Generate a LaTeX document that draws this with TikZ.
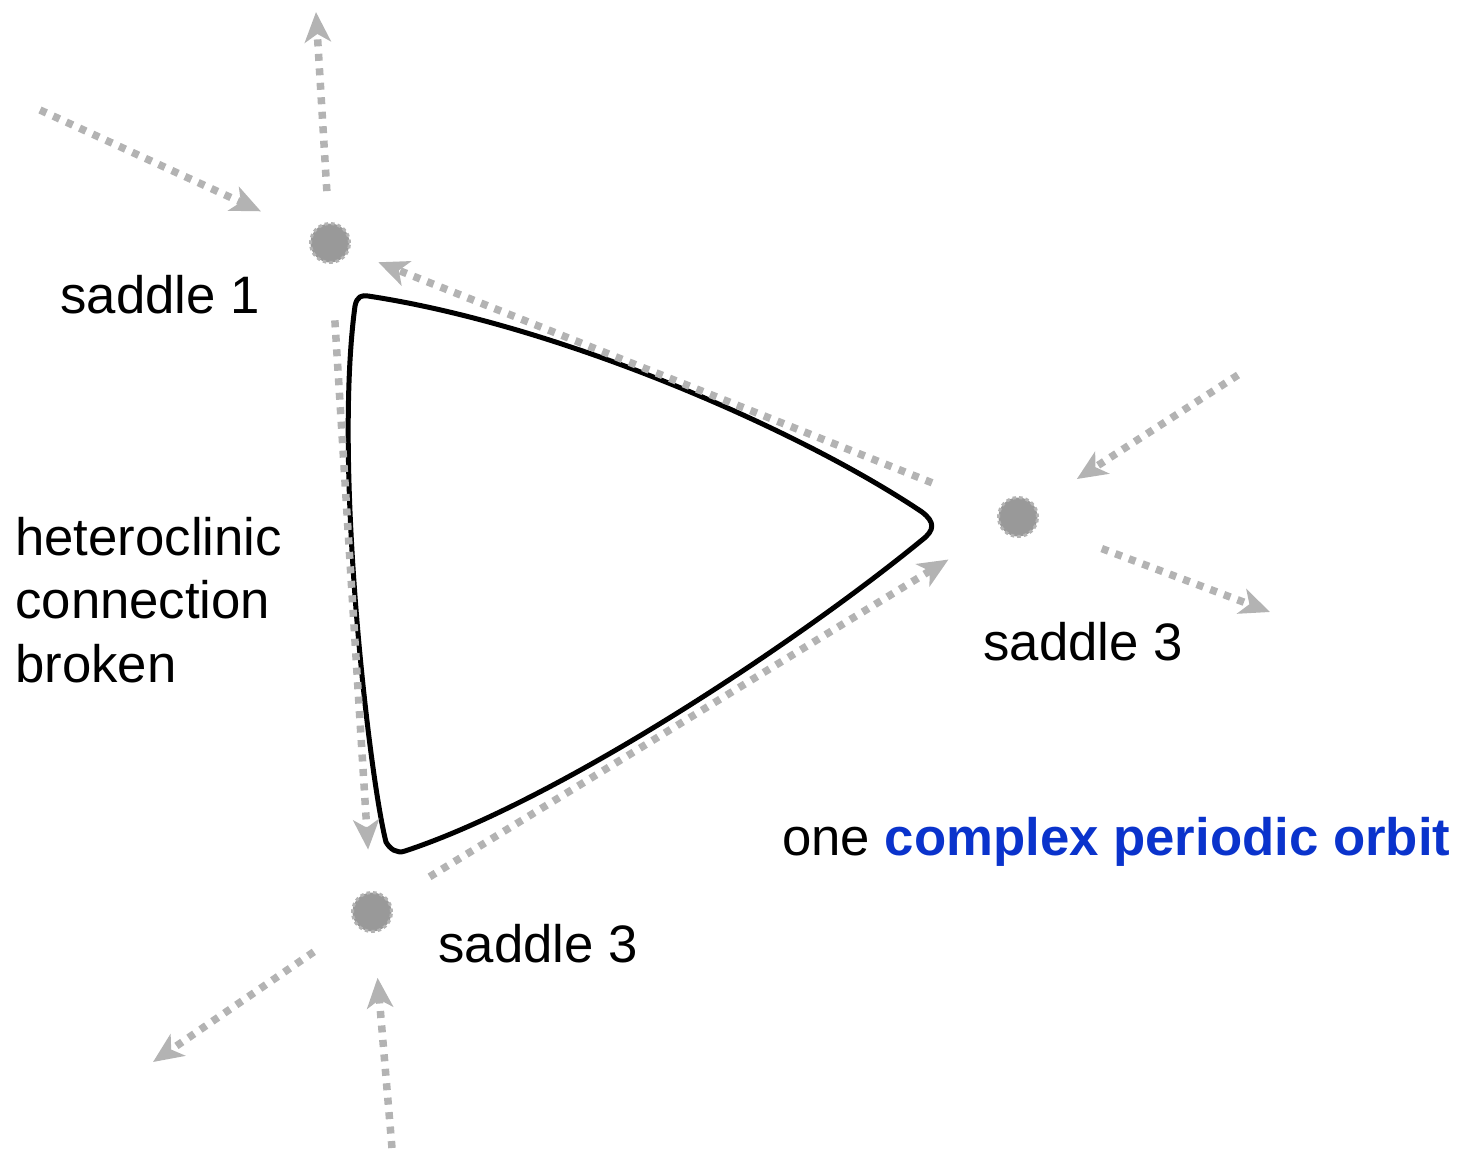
\documentclass[tikz,border=0pt]{standalone}
\usepackage{fontspec}
\setmainfont{Liberation Sans}
\usepackage{tikz}
\usetikzlibrary{arrows.meta}
\definecolor{flowgray}{HTML}{B3B3B3}
\definecolor{saddlegray}{HTML}{999999}
\definecolor{orbitblue}{HTML}{0A33CC}

\begin{document}
\begin{tikzpicture}[
    x=0.2mm, y=-0.2mm,
    flow/.style={draw=flowgray, line width=1.5mm, dash pattern=on 1.4mm off 1.5mm,
                 -{Stealth[length=6mm, width=5.2mm, inset=1.6mm]}},
    saddle/.style={circle, fill=saddlegray, draw=flowgray, line width=0.6mm,
                   dash pattern=on 0.7mm off 0.6mm, minimum size=7.8mm, inner sep=0pt, outer sep=0pt},
    lbl/.style={font=\fontsize{30}{36}\selectfont, inner sep=0pt, anchor=base west},
    orbit/.style={draw=black, line width=1mm, line join=round},
]
\useasboundingbox (0,0) rectangle (1475,1150);

% Saddles
\node[saddle] (s1) at (330,243) {};
\node[saddle] (s3r) at (1018,517) {};
\node[saddle] (s3b) at (372,912) {};

% Free ends of the manifolds
\coordinate (in1) at (40,110);
\coordinate (out1) at (316,12);
\coordinate (in3r) at (1238,375);
\coordinate (out3r) at (1270,612);
\coordinate (out3b) at (153,1062);
\coordinate (in3b) at (392,1148);

% Periodic orbit
\draw[orbit] (368,296) .. controls (560,325) and (800,430) .. (922,512)
  .. controls (935,522) and (935,530) .. (922,540)
  .. controls (800,640) and (560,800) .. (405,851)
  .. controls (397,854) and (390,849) .. (386,842)
  .. controls (370,780) and (333,470) .. (355,306)
  .. controls (357,296) and (362,295) .. (368,296) -- cycle;

% Stable and unstable manifolds
\draw[flow, shorten >=11.3mm] (in1) -- (s1);
\draw[flow, shorten <=6.5mm] (s1) -- (out1);
\draw[flow, shorten >=10.1mm] (in3r) -- (s3r);
\draw[flow, shorten <=14mm] (s3r) -- (out3r);
\draw[flow, shorten <=10.2mm] (s3b) -- (out3b);
\draw[flow, shorten >=9.3mm] (in3b) -- (s3b);

% Connections between saddles
\draw[flow, shorten <=14.6mm, shorten >=6.5mm] (s3r) -- (s1);
\draw[flow, shorten <=11.6mm, shorten >=8.6mm] (s1) -- (s3b);
\draw[flow, shorten <=9.6mm, shorten >=12.4mm] (s3b) -- (s3r);

% Labels
\node[lbl] (l1) at (60,313) {saddle 1};
\node[lbl] (l3r) at (983,660) {saddle 3};
\node[lbl] (l3b) at (438,962) {saddle 3};
\node[lbl, align=left] (lhet) at (15,682) {heteroclinic\\connection\\broken};
\node[lbl] (lorb) at (782,855) {one \textcolor{orbitblue}{\bfseries complex periodic orbit}};

\end{tikzpicture}
\end{document}
